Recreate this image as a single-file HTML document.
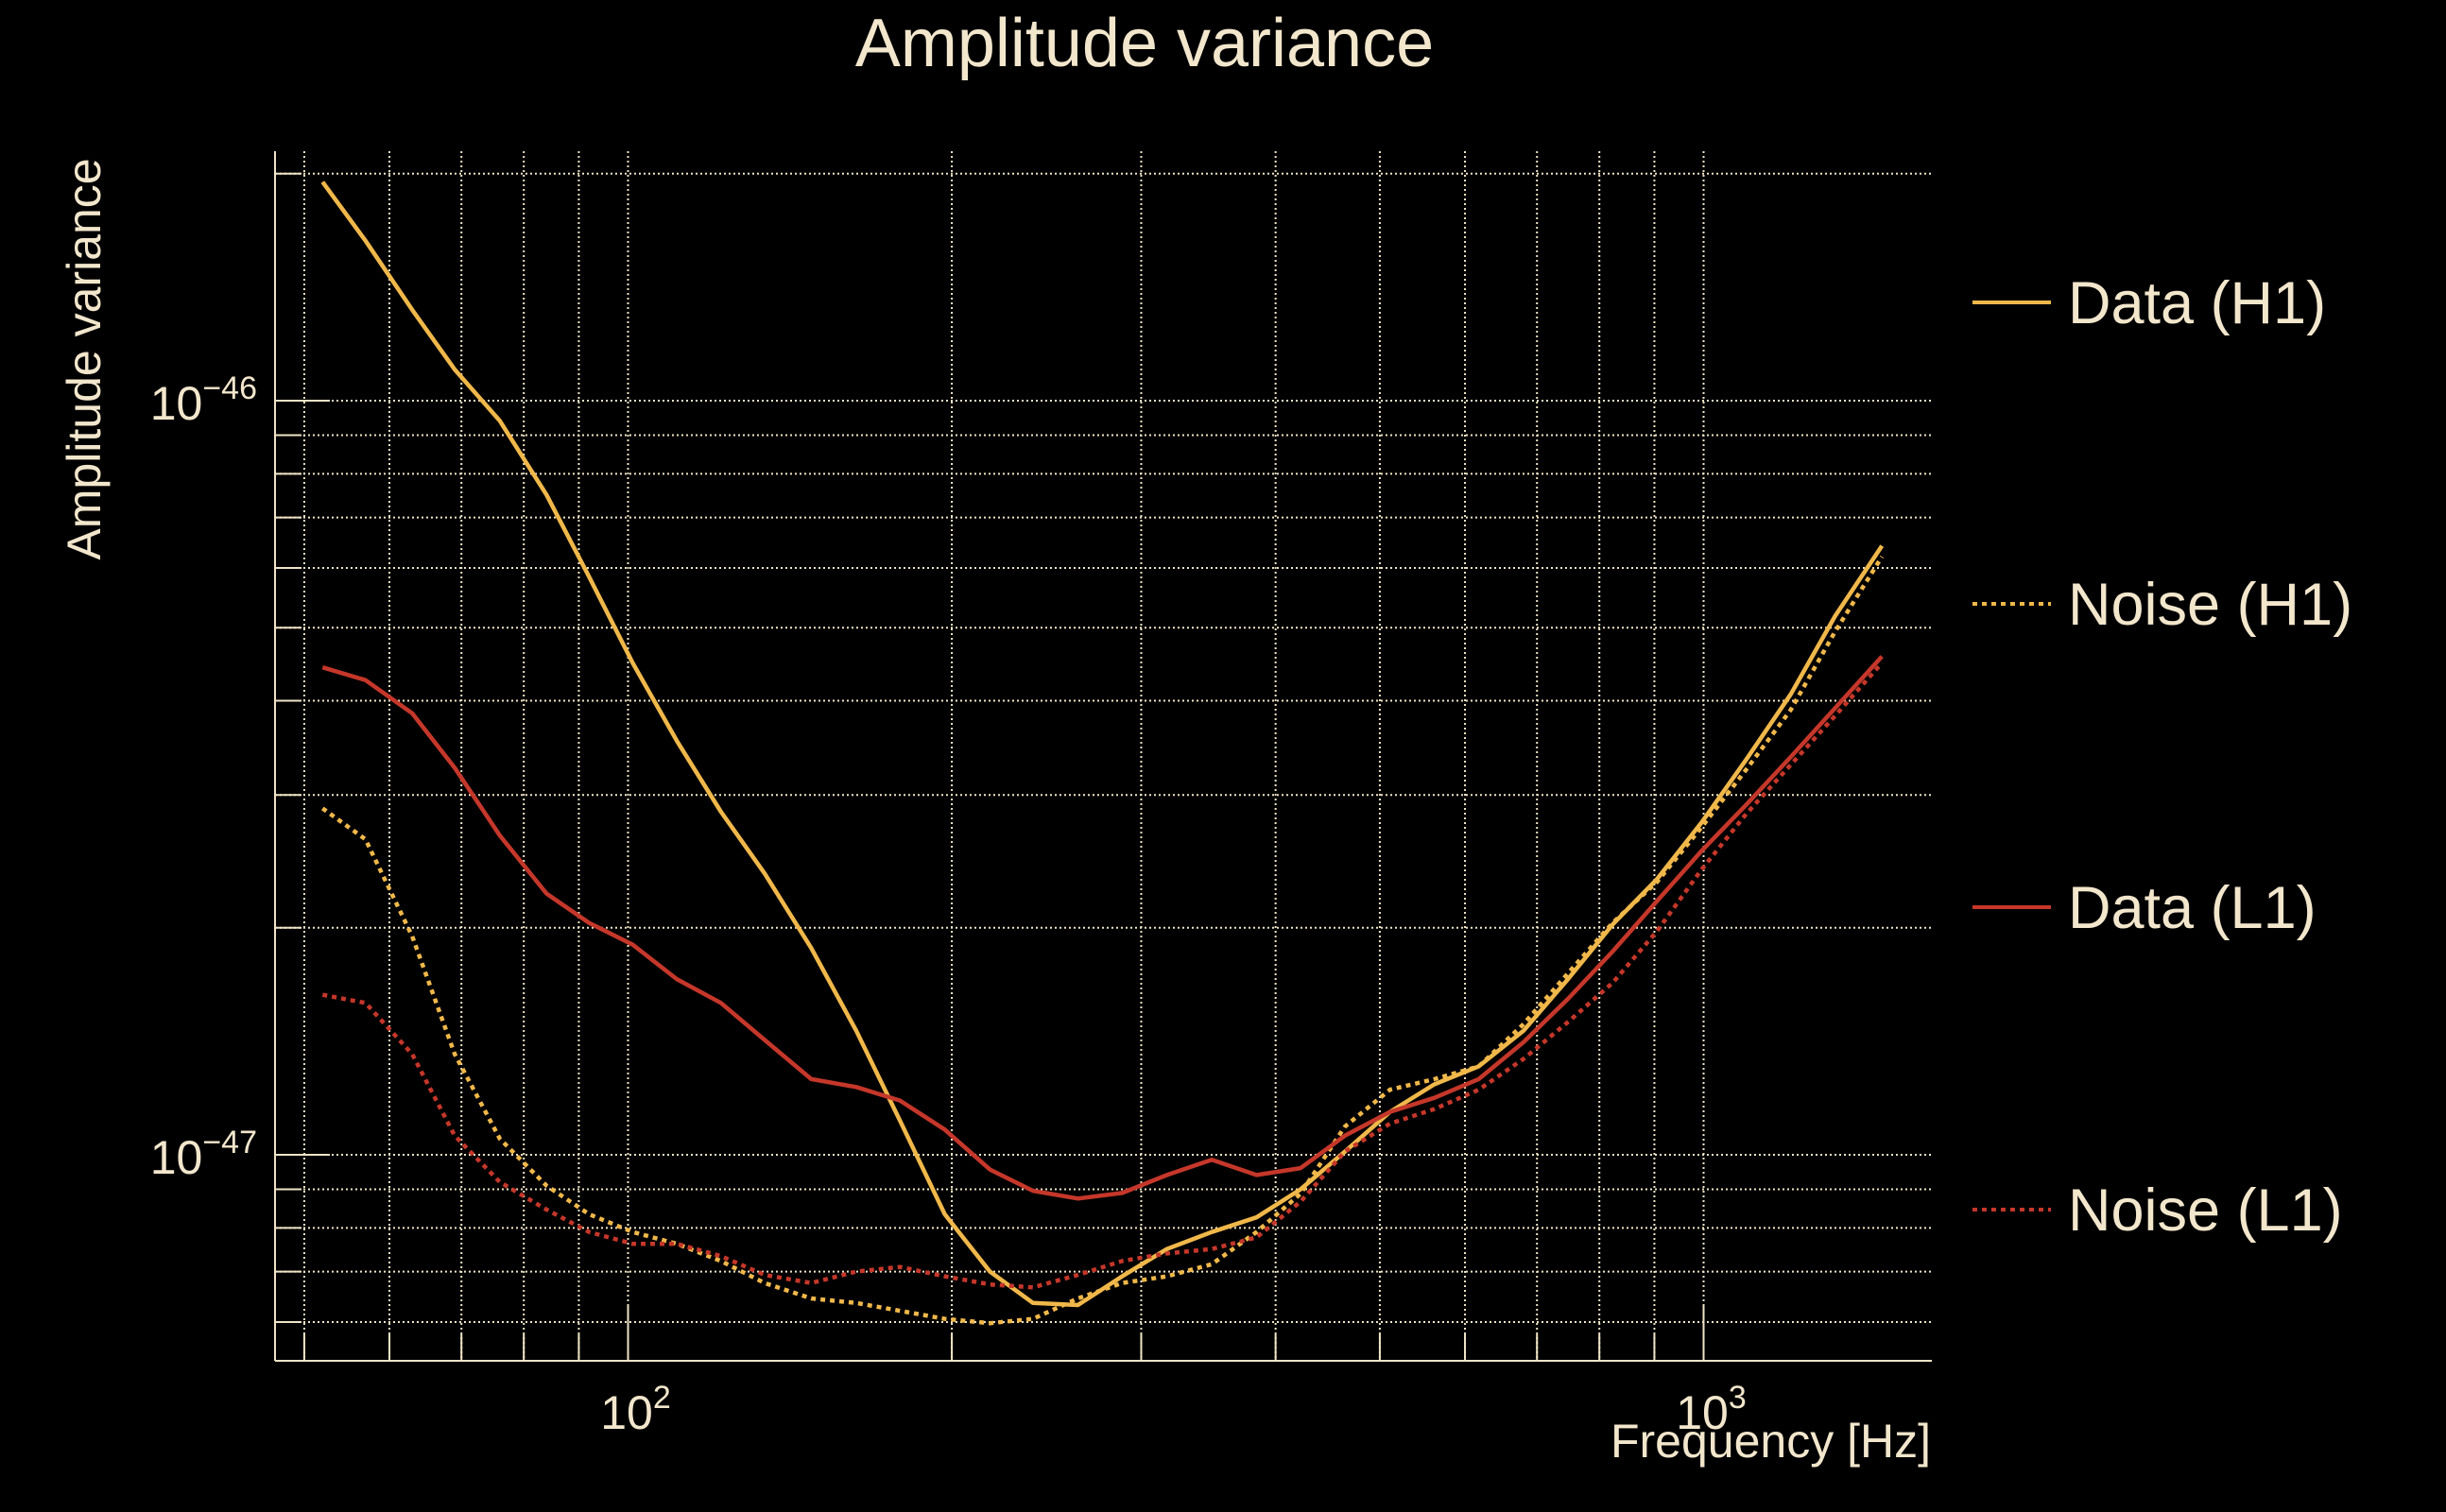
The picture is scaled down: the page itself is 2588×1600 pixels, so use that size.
<!DOCTYPE html>
<html><head><meta charset="utf-8"><style>
html,body{margin:0;padding:0;background:#000;}
svg{display:block;}
text{font-family:"Liberation Sans",sans-serif;fill:#f2e6cc;}
</style></head><body>
<svg id="chart" width="2588" height="1600" viewBox="0 0 2588 1600" xmlns="http://www.w3.org/2000/svg">
<rect width="2588" height="1600" fill="#000"/>
<text x="1211" y="70" font-size="72" text-anchor="middle">Amplitude variance</text>
<text transform="translate(106,380) rotate(-90)" font-size="50" text-anchor="middle">Amplitude variance</text>
<text x="2043" y="1542" font-size="50" text-anchor="end">Frequency [Hz]</text>
<g id="grid"></g>
<g id="ticks"></g>
<g id="series"></g>
<g id="legend"></g>
</svg>
<script>
const freqs = [52,57,63,69,76,84,92,101,111,122,134,148,163,179,197,217,238,262,288,317,349,384,422,464,511,562,618,680,748,823,905,996,1095,1205,1325,1465];
// values in units of 1e-47
const dataH1 = [19.5,16.3,13.2,11.0,9.4,7.5,5.84,4.49,3.54,2.85,2.36,1.88,1.46,1.11,0.834,0.70,0.636,0.632,0.69,0.75,0.79,0.826,0.90,1.01,1.14,1.24,1.31,1.46,1.71,2.02,2.32,2.76,3.34,4.08,5.18,6.42];
const noiseH1 = [2.88,2.62,1.95,1.36,1.05,0.91,0.834,0.79,0.762,0.723,0.676,0.645,0.636,0.621,0.606,0.598,0.606,0.645,0.676,0.69,0.716,0.79,0.888,1.09,1.22,1.26,1.31,1.49,1.74,2.03,2.30,2.72,3.24,3.89,4.94,6.21];
const dataL1 = [4.43,4.26,3.85,3.26,2.65,2.22,2.03,1.90,1.71,1.59,1.42,1.26,1.23,1.18,1.08,0.956,0.896,0.875,0.89,0.94,0.985,0.94,0.96,1.06,1.14,1.19,1.26,1.41,1.61,1.86,2.17,2.53,2.91,3.37,3.91,4.58];
const noiseL1 = [1.63,1.59,1.36,1.06,0.92,0.846,0.79,0.762,0.762,0.734,0.693,0.676,0.70,0.71,0.69,0.673,0.667,0.693,0.723,0.74,0.75,0.777,0.867,1.01,1.10,1.15,1.22,1.34,1.50,1.69,1.98,2.39,2.83,3.29,3.82,4.49];
const xGridFreqs = [50,60,70,80,90,100,200,300,400,500,600,700,800,900,1000];
const yGridVals = [0.6,0.7,0.8,0.9,1,2,3,4,5,6,7,8,9,10,20];
const seriesNames = ["Data (H1)","Noise (H1)","Data (L1)","Noise (L1)"];

const NS="http://www.w3.org/2000/svg";
const L=291,R=2044,T=160,B=1440;
function xs(f){return 664.5+(Math.log10(f)-2)*1138;}
function ys(v){return 1222-Math.log10(v)*798;}
function mk(tag,attrs,parent){const e=document.createElementNS(NS,tag);for(const k in attrs)e.setAttribute(k,attrs[k]);parent.appendChild(e);return e;}
const grid=document.getElementById('grid'),ticks=document.getElementById('ticks');
const gc="#efe4c6";
xGridFreqs.forEach(f=>{
  const l=mk('line',{x1:xs(f),x2:xs(f),y1:T,y2:B,stroke:gc,'stroke-width':2,'stroke-dasharray':'2,3'},grid);
  
  
});
yGridVals.forEach(v=>{
  const l=mk('line',{x1:L,x2:R,y1:ys(v),y2:ys(v),stroke:gc,'stroke-width':2,'stroke-dasharray':'2,3'},grid);
  
  
  const major=(v===1||v===10);
  const t=mk('line',{x1:L,x2:L+(major?58:28),y1:ys(v),y2:ys(v),stroke:gc,'stroke-width':2},ticks);
  
  
});
xGridFreqs.forEach(f=>{
  const major=(f===100||f===1000);
  const t=mk('line',{x1:xs(f),x2:xs(f),y1:B,y2:B-(major?58:28),stroke:gc,'stroke-width':2},ticks);
  
  
});
// axes
const ax1=mk('line',{x1:L,x2:L,y1:T,y2:B,stroke:gc,'stroke-width':2},ticks);


const ax2=mk('line',{x1:L,x2:R,y1:B,y2:B,stroke:gc,'stroke-width':2},ticks);


// tick labels
function powLabel(x,y,exp,anchor,name){
  const t=mk('text',{x:x,y:y,'font-size':50,'text-anchor':anchor},ticks);
  
  
  t.innerHTML='10<tspan dy="-22" font-size="34">'+exp+'</tspan>';
}
powLabel(272,ys(10)+20,'\u221246','end','y-tick-label-1e-46');
powLabel(272,ys(1)+20,'\u221247','end','y-tick-label-1e-47');
powLabel(xs(100)+8,1512,'2','middle','x-tick-label-100');
powLabel(xs(1000)+8,1512,'3','middle','x-tick-label-1000');
// series
const series=document.getElementById('series');
const Y="#f0b84a",Rd="#c5372a";
const defs=[[dataH1,Y,null,'series-data-h1'],[noiseH1,Y,'5,5','series-noise-h1'],[dataL1,Rd,null,'series-data-l1'],[noiseL1,Rd,'5,5','series-noise-l1']];
defs.forEach(d=>{
  const pts=freqs.map((f,i)=>xs(f).toFixed(1)+','+ys(d[0][i]).toFixed(1)).join(' ');
  const a={points:pts,fill:'none',stroke:d[1],'stroke-width':4.5,'stroke-linejoin':'round'};
  if(d[2])a['stroke-dasharray']=d[2];
  const p=mk('polyline',a,series);
  
  
});
// legend
const lg=document.getElementById('legend');
const legY=[320,639,960,1280];
defs.forEach((d,i)=>{
  const a={x1:2087,x2:2170,y1:legY[i],y2:legY[i],stroke:d[1],'stroke-width':4};
  if(d[2])a['stroke-dasharray']='5,5';
  const l=mk('line',a,lg);
  
  
  const t=mk('text',{x:2188,y:legY[i]+22,'font-size':63},lg);
  
  
  t.textContent=seriesNames[i];
});
</script>
</body></html>
